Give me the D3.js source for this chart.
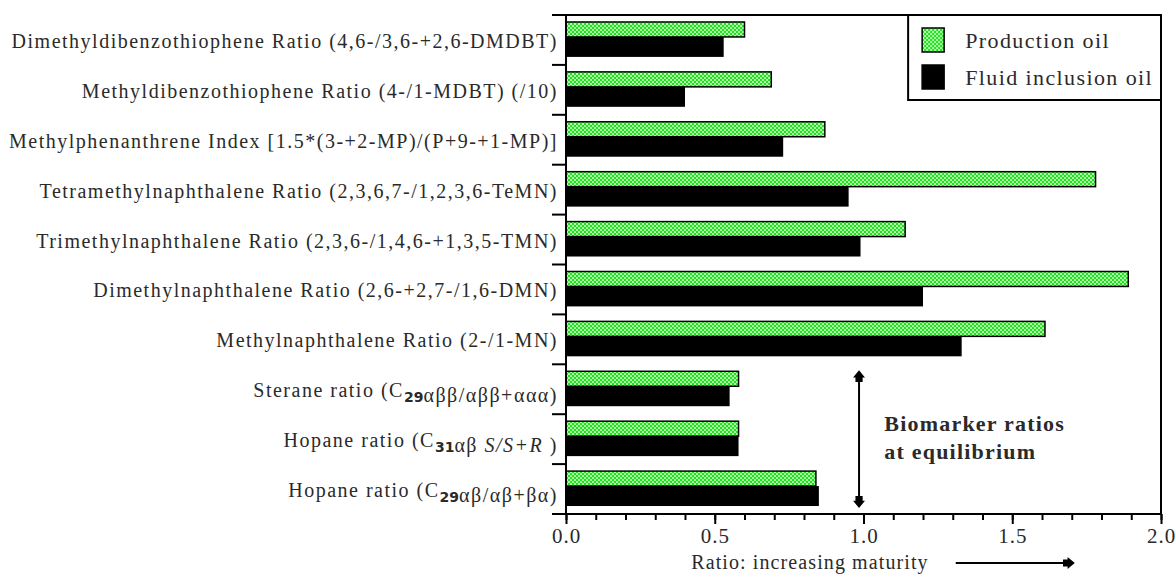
<!DOCTYPE html>
<html>
<head>
<meta charset="utf-8">
<script src="https://cdn.jsdelivr.net/npm/d3@7"></script>
<style>
  body { margin: 0; background: #fff; }
  text { font-family: "Liberation Serif", "Times New Roman", serif; }
</style>
</head>
<body>
<div id="wrapper"></div>
<script>
// Category labels, {sub:..} = subscript, {i:..} = italic
const categories = [
    "Dimethyldibenzothiophene Ratio (4,6-/3,6-+2,6-DMDBT)",
    "Methyldibenzothiophene Ratio (4-/1-MDBT) (/10)",
    "Methylphenanthrene Index [1.5*(3-+2-MP)/(P+9-+1-MP)]",
    "Tetramethylnaphthalene Ratio (2,3,6,7-/1,2,3,6-TeMN)",
    "Trimethylnaphthalene Ratio (2,3,6-/1,4,6-+1,3,5-TMN)",
    "Dimethylnaphthalene Ratio (2,6-+2,7-/1,6-DMN)",
    "Methylnaphthalene Ratio (2-/1-MN)",
    "Sterane ratio (C{sub:29}αββ/αββ+ααα)",
    "Hopane ratio (C{sub:31}αβ {i:S/S+R} )",
    "Hopane ratio (C{sub:29}αβ/αβ+βα)",
]
const productionOil = [0.60, 0.69, 0.87, 1.78, 1.14, 1.89, 1.61, 0.58, 0.58, 0.84]
const fluidInclusionOil = [0.53, 0.40, 0.73, 0.95, 0.99, 1.20, 1.33, 0.55, 0.58, 0.85]
const seriesNames = ["Production oil", "Fluid inclusion oil"]
const majorTicks = [0, 0.5, 1.0, 1.5, 2.0]
const minorTicks = d3.range(0, 21).map(i => i / 10)

const dimensions = {
    width: 1176,
    height: 574,
    margin: { top: 15, right: 15, bottom: 60, left: 566 },
}
dimensions.boundedWidth = dimensions.width - dimensions.margin.left - dimensions.margin.right
dimensions.boundedHeight = dimensions.height - dimensions.margin.top - dimensions.margin.bottom

const svg = d3.select("#wrapper")
    .append("svg")
    .attr("width", dimensions.width)
    .attr("height", dimensions.height)

// dotted green fill
const defs = svg.append("defs")
const pattern = defs.append("pattern")
    .attr("id", "greenDots")
    .attr("width", 4)
    .attr("height", 4)
    .attr("patternUnits", "userSpaceOnUse")
pattern.append("rect").attr("width", 4).attr("height", 4).attr("fill", "#1fe01f")
pattern.append("rect").attr("x", 0).attr("y", 0).attr("width", 2).attr("height", 2).attr("fill", "#b0ffa8")
pattern.append("rect").attr("x", 2).attr("y", 2).attr("width", 2).attr("height", 2).attr("fill", "#b0ffa8")

const bounds = svg.append("g")
    .attr("transform", `translate(${dimensions.margin.left},${dimensions.margin.top})`)

const xScale = d3.scaleLinear()
    .domain([0, 2])
    .range([0, dimensions.boundedWidth])

const yScale = d3.scaleBand()
    .domain(categories)
    .range([0, dimensions.boundedHeight])

const bw = yScale.bandwidth()

// bars
bounds.selectAll(".prod")
    .data(categories)
    .join("rect")
    .attr("x", 0)
    .attr("y", d => yScale(d) + bw * 0.14)
    .attr("width", (d, i) => xScale(productionOil[i]))
    .attr("height", bw * 0.3)
    .attr("fill", "url(#greenDots)")
    .attr("stroke", "#000")
    .attr("stroke-width", 1.5)

bounds.selectAll(".fluid")
    .data(categories)
    .join("rect")
    .attr("x", 0)
    .attr("y", d => yScale(d) + bw * 0.44)
    .attr("width", (d, i) => xScale(fluidInclusionOil[i]))
    .attr("height", bw * 0.4)
    .attr("fill", "#000")

// frame: top, right, left, bottom
const frame = bounds.append("g").attr("stroke", "#000").attr("stroke-width", 2)
frame.append("line")
    .attr("x1", -14).attr("x2", dimensions.boundedWidth)
    .attr("y1", 0).attr("y2", 0)
frame.append("line")
    .attr("x1", dimensions.boundedWidth).attr("x2", dimensions.boundedWidth)
    .attr("y1", 0).attr("y2", dimensions.boundedHeight)
frame.append("line")
    .attr("x1", 0).attr("x2", 0)
    .attr("y1", 0).attr("y2", dimensions.boundedHeight)
frame.append("line")
    .attr("x1", -14).attr("x2", dimensions.boundedWidth)
    .attr("y1", dimensions.boundedHeight).attr("y2", dimensions.boundedHeight)

// left ticks on category boundaries
const boundaries = categories.map(d => yScale(d)).concat([dimensions.boundedHeight])
frame.selectAll(".ytick")
    .data(boundaries)
    .join("line")
    .attr("x1", -14).attr("x2", 0)
    .attr("y1", d => d).attr("y2", d => d)

// category labels
const labels = bounds.append("g")
    .selectAll("text")
    .data(categories)
    .join("text")
    .attr("x", -8)
    .attr("y", d => yScale(d) + bw / 2 + 8)
    .attr("text-anchor", "end")
    .attr("font-size", 20)
    .attr("letter-spacing", 1.5)
    .attr("fill", "#2a2a2a")

labels.each(function(d) {
    const t = d3.select(this)
    const parts = d.split(/(\{(?:sub|i):[^}]*\})/)
    parts.forEach(p => {
        if (!p) return
        const m = p.match(/^\{(sub|i):([^}]*)\}$/)
        if (m && m[1] === "sub") {
            t.append("tspan").attr("dy", 5).attr("font-size", 14).attr("letter-spacing", 0)
                .attr("font-weight", "bold").attr("font-family", "DejaVu Sans").text(m[2])
            t.append("tspan").attr("dy", -5).text("")
        } else if (m && m[1] === "i") {
            t.append("tspan").attr("font-style", "italic").text(m[2])
        } else {
            t.append("tspan").text(p)
        }
    })
})

// x axis
const minorAxis = d3.axisBottom(xScale)
    .tickValues(minorTicks)
    .tickSize(6)
    .tickFormat("")
bounds.append("g")
    .attr("transform", `translate(0,${dimensions.boundedHeight})`)
    .call(minorAxis)
    .call(g => g.select(".domain").remove())
    .call(g => g.selectAll("line").attr("stroke-width", 2))

const majorAxis = d3.axisBottom(xScale)
    .tickValues(majorTicks)
    .tickSize(10)
    .tickPadding(1)
    .tickFormat(d3.format(".1f"))
bounds.append("g")
    .attr("transform", `translate(0,${dimensions.boundedHeight})`)
    .call(majorAxis)
    .call(g => g.select(".domain").remove())
    .call(g => g.selectAll("line").attr("stroke-width", 2))
    .call(g => g.selectAll("text")
        .attr("font-size", 21)
        .attr("letter-spacing", 1)
        .attr("font-family", "Liberation Serif")
        .attr("fill", "#2a2a2a")
        .attr("dy", "0.85em"))

// axis title with arrow
bounds.append("text")
    .attr("x", xScale(0.82))
    .attr("y", dimensions.boundedHeight + 55)
    .attr("text-anchor", "middle")
    .attr("font-size", 20)
    .attr("letter-spacing", 1.1)
    .attr("fill", "#2a2a2a")
    .text("Ratio: increasing maturity")

defs.append("marker")
    .attr("id", "arrowHead")
    .attr("viewBox", "0 0 10 10")
    .attr("refX", 5).attr("refY", 5)
    .attr("markerWidth", 12).attr("markerHeight", 12)
    .attr("markerUnits", "userSpaceOnUse")
    .attr("orient", "auto-start-reverse")
    .append("path")
    .attr("d", "M0,2 L4,2 L4,0 L10,5 L4,10 L4,8 L0,8 z")
    .attr("fill", "#000")

bounds.append("line")
    .attr("x1", xScale(1.31)).attr("x2", xScale(1.69))
    .attr("y1", dimensions.boundedHeight + 49).attr("y2", dimensions.boundedHeight + 49)
    .attr("stroke", "#000").attr("stroke-width", 2)
    .attr("marker-end", "url(#arrowHead)")

// annotation for biomarker ratios
const annX = xScale(0.985)
bounds.append("line")
    .attr("x1", annX).attr("x2", annX)
    .attr("y1", yScale(categories[7]) + 12)
    .attr("y2", yScale(categories[9]) + bw - 12)
    .attr("stroke", "#000").attr("stroke-width", 2)
    .attr("marker-start", "url(#arrowHead)")
    .attr("marker-end", "url(#arrowHead)")

const annTextX = xScale(1.07)
const ann = bounds.append("text")
    .attr("font-size", 22)
    .attr("letter-spacing", 1.2)
    .attr("font-weight", "bold")
    .attr("fill", "#2a2a2a")
ann.append("tspan").attr("x", annTextX).attr("y", yScale(categories[8]) + 17).text("Biomarker ratios")
ann.append("tspan").attr("x", annTextX).attr("y", yScale(categories[8]) + 45).text("at equilibrium")

// legend
const legend = bounds.append("g")
    .attr("transform", `translate(${xScale(1.15)},0)`)
legend.append("rect")
    .attr("x", 0).attr("y", 0)
    .attr("width", xScale(2) - xScale(1.15))
    .attr("height", 85)
    .attr("fill", "#fff")
    .attr("stroke", "#000")
    .attr("stroke-width", 2)

const swatchFills = ["url(#greenDots)", "#000"]
seriesNames.forEach((name, i) => {
    legend.append("rect")
        .attr("x", 14).attr("y", 13 + i * 37)
        .attr("width", 22).attr("height", 24)
        .attr("fill", swatchFills[i])
        .attr("stroke", "#000")
        .attr("stroke-width", 1.5)
    legend.append("text")
        .attr("x", 57).attr("y", 33 + i * 37)
        .attr("font-size", 22)
        .attr("letter-spacing", 1.4)
        .attr("fill", "#2a2a2a")
        .text(name)
})
</script>
</body>
</html>
